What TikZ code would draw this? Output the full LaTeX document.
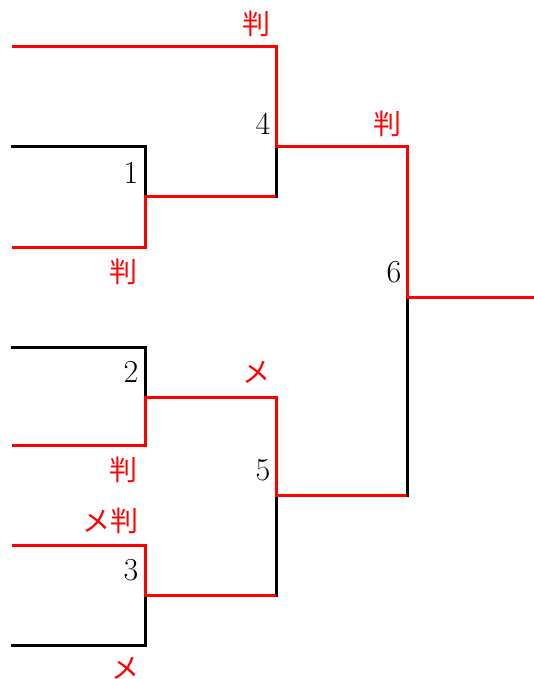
\documentclass[tikz,border=0pt]{standalone}
\usepackage{fontspec}
\newfontfamily\jpfont{Noto Sans CJK JP}
\tikzset{
  winline/.style={red, line width=1.5pt, line join=miter},
  loseline/.style={black, line width=1.5pt, line cap=rect},
  seed/.style={inner sep=0pt, font=\fontsize{16}{16}\selectfont},
  kimari/.style={inner sep=0pt, red, font=\jpfont\fontsize{14}{14}\selectfont},
}
\begin{document}
\begin{tikzpicture}[x=0.5pt, y=-0.5pt]
    \useasboundingbox (0,0) rectangle (534,679);
    % entrants
    \coordinate (a1) at (12,47);
    \coordinate (a2) at (12,147);
    \coordinate (a3) at (12,247);
    \coordinate (a4) at (12,347);
    \coordinate (a5) at (12,445);
    \coordinate (a6) at (12,545);
    \coordinate (a7) at (12,645);
    % first round
    \coordinate (t1) at (145,147); \coordinate (m1) at (145,197); \coordinate (b1) at (145,247);
    \coordinate (t2) at (145,347); \coordinate (m2) at (145,397); \coordinate (b2) at (145,445);
    \coordinate (t3) at (145,545); \coordinate (m3) at (145,595); \coordinate (b3) at (145,645);
    % second round
    \coordinate (t4) at (276,47);  \coordinate (m4) at (276,147); \coordinate (b4) at (276,197);
    \coordinate (t5) at (276,397); \coordinate (m5) at (276,495); \coordinate (b5) at (276,595);
    % final
    \coordinate (t6) at (407,147); \coordinate (m6) at (407,297); \coordinate (b6) at (407,495);
    \coordinate (champ) at (534,297);

    % losers
    \draw[loseline] (a2) -- (t1) -- (m1);
    \draw[loseline] (a4) -- (t2) -- (m2);
    \draw[loseline] (a7) -- (b3) -- (m3);
    \draw[loseline] (m4) -- (b4);
    \draw[loseline] (m5) -- (b5);
    \draw[loseline] (m6) -- (b6);
    % winners
    \draw[winline] (a1) -- (t4) -- (m4) -- (t6) -- (m6) -- (champ);
    \draw[winline] (a3) -- (b1) -- (m1) -- (b4);
    \draw[winline] (a5) -- (b2) -- (m2) -- (t5) -- (m5) -- (b6);
    \draw[winline] (a6) -- (t3) -- (m3) -- (b5);

    % match numbers
    \node[seed] (n1) at (131,173) {1};
    \node[seed] (n2) at (131,372) {2};
    \node[seed] (n3) at (131,570) {3};
    \node[seed] (n4) at (263,124) {4};
    \node[seed] (n5) at (263,470) {5};
    \node[seed] (n6) at (394,272) {6};

    % results
    \node[kimari] (k4) at (256,24) {判};
    \node[kimari] (k1) at (123,272) {判};
    \node[kimari] (k6) at (387,124) {判};
    \node[kimari] (k5) at (256,372) {メ};
    \node[kimari] (k2) at (123,470) {判};
    \node[kimari] (k3) at (110,521) {メ判};
    \node[kimari] (k3b) at (125,668) {メ};
\end{tikzpicture}
\end{document}
